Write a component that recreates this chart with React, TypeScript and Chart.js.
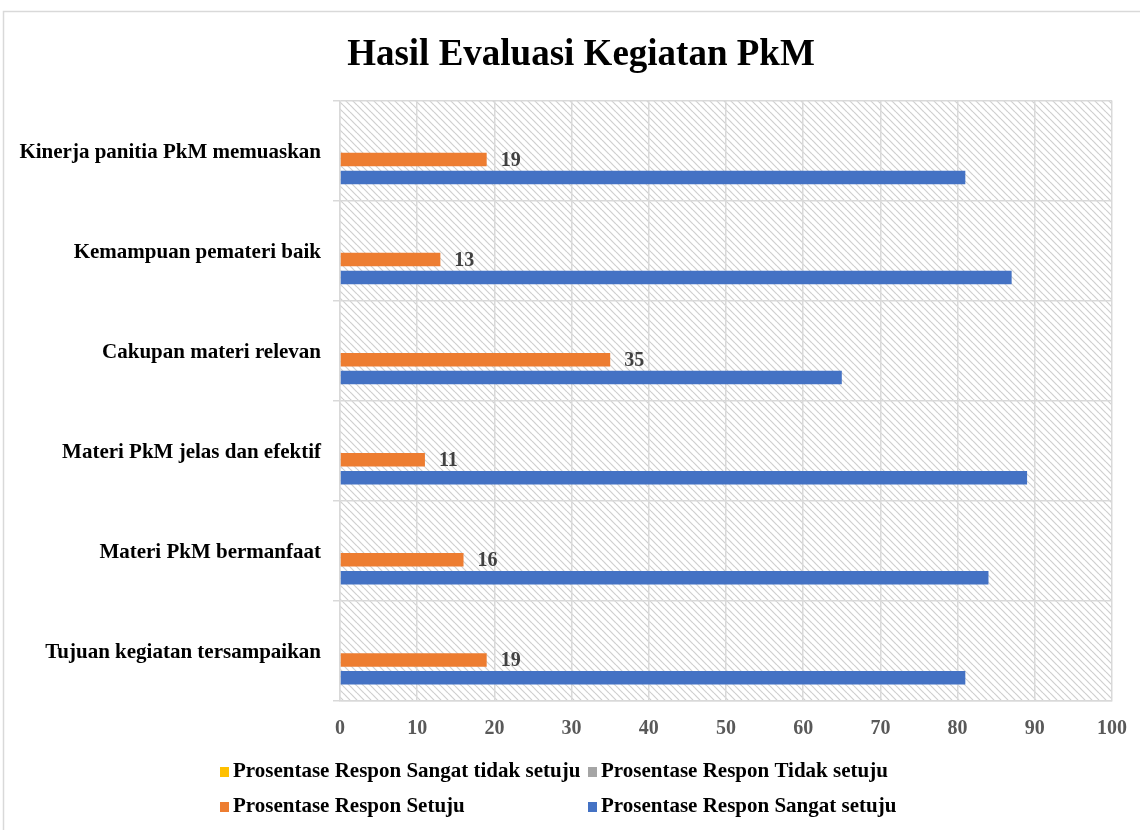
import React, { useEffect, useRef } from "react";
import { Chart, registerables } from "chart.js";

Chart.register(...registerables);

const FONT = "'Liberation Serif', 'Times New Roman', serif";

const categories = [
  "Kinerja panitia PkM memuaskan",
  "Kemampuan pemateri baik",
  "Cakupan materi relevan",
  "Materi PkM jelas dan efektif",
  "Materi PkM bermanfaat",
  "Tujuan kegiatan tersampaikan",
];

const seriesNames = [
  "Prosentase Respon Sangat tidak setuju",
  "Prosentase Respon Tidak setuju",
  "Prosentase Respon Setuju",
  "Prosentase Respon Sangat setuju",
];

const sangatTidakSetuju = [0, 0, 0, 0, 0, 0];
const tidakSetuju = [0, 0, 0, 0, 0, 0];
const setuju = [19, 13, 35, 11, 16, 19];
const sangatSetuju = [81, 87, 65, 89, 84, 81];

const seriesColors = ["#FFC000", "#A5A5A5", "#ED7D31", "#4472C4"];
const chartTitle = "Hasil Evaluasi Kegiatan PkM";

const backgroundPlugin = {
  id: "bgHatch",
  beforeDraw(chart: any) {
    const { ctx, chartArea: a } = chart;
    ctx.save();
    ctx.fillStyle = "#ffffff";
    ctx.fillRect(0, 0, chart.width, chart.height);
    ctx.strokeStyle = "#d9d9d9";
    ctx.lineWidth = 1.5;
    ctx.beginPath();
    ctx.moveTo(3.5, chart.height);
    ctx.lineTo(3.5, 11.5);
    ctx.lineTo(chart.width, 11.5);
    ctx.stroke();

    const s = 7;
    const tile = document.createElement("canvas");
    tile.width = s;
    tile.height = s;
    const t = tile.getContext("2d")!;
    t.fillStyle = "#ffffff";
    t.fillRect(0, 0, s, s);
    t.strokeStyle = "#cfcfcf";
    t.lineWidth = 1.2;
    for (const k of [-1, 0, 1]) {
      t.beginPath();
      t.moveTo(0, k * s);
      t.lineTo(s, k * s + s);
      t.stroke();
    }
    const pat = ctx.createPattern(tile, "repeat");
    if (pat) {
      ctx.fillStyle = pat;
      ctx.fillRect(a.left, a.top, a.right - a.left, a.bottom - a.top);
    }
    ctx.restore();
  },
};

const titlePlugin = {
  id: "customTitle",
  afterDraw(chart: any) {
    const { ctx } = chart;
    ctx.save();
    ctx.font = `bold 37px ${FONT}`;
    ctx.fillStyle = "#000000";
    ctx.textAlign = "center";
    ctx.textBaseline = "middle";
    ctx.fillText(chartTitle, 581, 55);
    ctx.restore();
  },
};

const dataLabelPlugin = {
  id: "dataLabels",
  afterDatasetsDraw(chart: any) {
    const { ctx } = chart;
    const dsIndex = 2;
    const meta = chart.getDatasetMeta(dsIndex);
    const values = chart.data.datasets[dsIndex].data;
    ctx.save();
    ctx.font = `bold 20px ${FONT}`;
    ctx.fillStyle = "#404040";
    ctx.textAlign = "left";
    ctx.textBaseline = "middle";
    meta.data.forEach((bar: any, i: number) => {
      ctx.fillText(String(values[i]), bar.x + 14, bar.y + 1);
    });
    ctx.restore();
  },
};

const legendPlugin = {
  id: "customLegend",
  afterDraw(chart: any) {
    const { ctx } = chart;
    const cols = [220, 588];
    const rows = [772, 807];
    ctx.save();
    ctx.font = `bold 21px ${FONT}`;
    ctx.textAlign = "left";
    ctx.textBaseline = "middle";
    chart.data.datasets.forEach((ds: any, i: number) => {
      const x = cols[i % 2];
      const y = rows[Math.floor(i / 2)];
      ctx.fillStyle = ds.backgroundColor;
      ctx.fillRect(x, y - 5, 9, 10);
      ctx.fillStyle = "#000000";
      ctx.fillText(ds.label, x + 13, y);
    });
    ctx.restore();
  },
};

export default function App() {
  const canvasRef = useRef<HTMLCanvasElement | null>(null);

  useEffect(() => {
    if (!canvasRef.current) return;
    const seriesData = [sangatTidakSetuju, tidakSetuju, setuju, sangatSetuju];
    const chart = new Chart(canvasRef.current, {
      type: "bar",
      data: {
        labels: categories,
        datasets: seriesData.map((d, i) => ({
          label: seriesNames[i],
          data: d,
          backgroundColor: seriesColors[i],
          borderWidth: 0,
          categoryPercentage: 0.716,
          barPercentage: 0.75,
        })),
      },
      options: {
        indexAxis: "y",
        responsive: false,
        animation: false,
        layout: { padding: { top: 100.5, left: 0, right: 28, bottom: 0 } },
        plugins: {
          legend: { display: false },
          tooltip: { enabled: false },
          title: { display: false },
        },
        scales: {
          x: {
            min: 0,
            max: 100,
            ticks: {
              stepSize: 10,
              color: "#595959",
              font: { family: FONT, size: 20, weight: "bold" },
              padding: 16,
            },
            grid: { color: "#d9d9d9", lineWidth: 1.5, drawTicks: false },
            border: { color: "#d9d9d9", width: 1.5 },
            afterFit: (s: any) => {
              s.height = 129;
              s.paddingLeft = 0;
              s.paddingRight = 0;
            },
          },
          y: {
            grid: {
              offset: true,
              color: "#d9d9d9",
              lineWidth: 1.5,
              tickLength: 7,
              drawTicks: true,
            },
            border: { color: "#d9d9d9", width: 1.5 },
            ticks: {
              color: "#000000",
              font: { family: FONT, size: 21, weight: "bold" },
              padding: 12,
              labelOffset: 2,
            },
            afterFit: (s: any) => {
              s.width = 340;
              s.paddingTop = 0;
              s.paddingBottom = 0;
            },
          },
        },
      },
      plugins: [backgroundPlugin, dataLabelPlugin, legendPlugin, titlePlugin],
    } as any);
    return () => chart.destroy();
  }, []);

  return (
    <div style={{ position: "absolute", left: 0, top: 0, width: 1140, height: 830 }}>
      <canvas ref={canvasRef} width={1140} height={830} />
    </div>
  );
}
